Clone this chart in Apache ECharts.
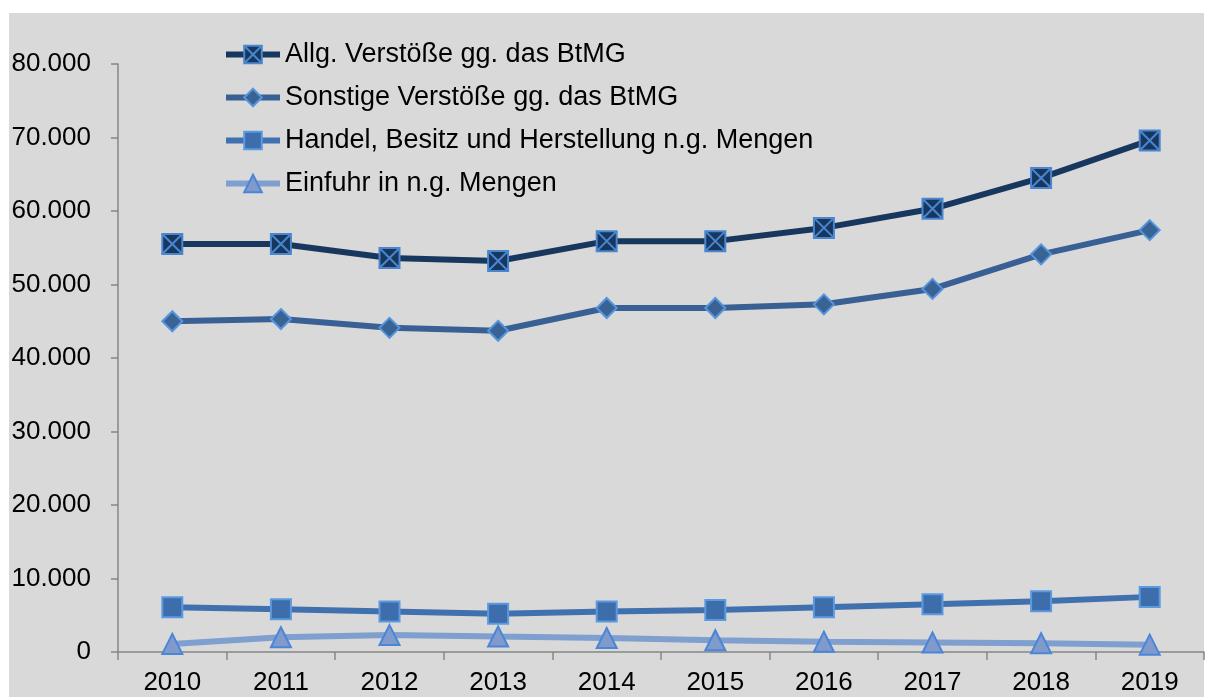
<!DOCTYPE html>
<html>
<head>
    <meta charset="UTF-8">
    <title>BtMG Verstöße</title>
    <script src="https://cdn.jsdelivr.net/npm/echarts@6/dist/echarts.min.js"></script>
</head>
<body style="margin:0;background:#fff">
<div id="chart" style="width: 1205px; height: 697px"></div>
<script>
    var years = ['2010', '2011', '2012', '2013', '2014', '2015', '2016', '2017', '2018', '2019'];
    var names = ['Allg. Verstöße gg. das BtMG', 'Sonstige Verstöße gg. das BtMG',
        'Handel, Besitz und Herstellung n.g. Mengen', 'Einfuhr in n.g. Mengen'];
    var allg = [55500, 55500, 53600, 53200, 55900, 55900, 57700, 60300, 64500, 69600];
    var sonstige = [45000, 45300, 44100, 43700, 46800, 46800, 47300, 49400, 54100, 57400];
    var handel = [6100, 5800, 5500, 5200, 5500, 5700, 6100, 6500, 6900, 7500];
    var einfuhr = [1100, 2000, 2300, 2100, 1900, 1600, 1400, 1300, 1200, 1000];

    var font = 'Liberation Sans, Arial, sans-serif';
    // Quadrat mit Kreuz
    var crossBox = 'path://M0,0 L10,0 L10,10 L0,10 Z M0,0 L10,10 M10,0 L0,10';

    function fmt(v) {
        // deutsches Tausendertrennzeichen
        return String(v).replace(/\B(?=(\d{3})+(?!\d))/g, '.');
    }

    function line(name, data, color, symbol, fill, border, width) {
        return {
            name: name,
            type: 'line',
            data: data,
            symbol: symbol,
            symbolSize: 20,
            lineStyle: {color: color, width: width},
            itemStyle: {color: fill, borderColor: border, borderWidth: 2},
            emphasis: {disabled: true},
            z: 2
        };
    }

    var myChart = echarts.init(document.getElementById('chart'));
    myChart.setOption({
        animation: false,
        backgroundColor: '#fff',
        graphic: [{
            type: 'rect', z: -10,
            shape: {x: 9, y: 13, width: 1195, height: 684},
            style: {fill: '#d9d9d9'}
        }],
        grid: {left: 118, right: 1, top: 64, bottom: 45},
        legend: {
            orient: 'vertical',
            left: 218, top: 36,
            itemWidth: 54, itemHeight: 22, itemGap: 16,
            lineStyle: {width: 6},
            textStyle: {fontFamily: font, fontSize: 27, color: '#000'},
            data: names
        },
        xAxis: {
            type: 'category',
            data: years,
            boundaryGap: true,
            axisLine: {lineStyle: {color: '#868686', width: 1.5}},
            axisTick: {show: true, length: 8, lineStyle: {color: '#868686', width: 1.5}},
            axisLabel: {fontFamily: font, fontSize: 26, color: '#000', margin: 18}
        },
        yAxis: {
            type: 'value',
            min: 0, max: 80000, interval: 10000,
            splitLine: {show: false},
            axisLine: {show: true, lineStyle: {color: '#868686', width: 1.5}},
            axisTick: {show: true, length: 7, lineStyle: {color: '#868686', width: 1.5}},
            axisLabel: {fontFamily: font, fontSize: 26, color: '#000', margin: 27, formatter: fmt}
        },
        series: [
            line(names[0], allg, '#17375e', crossBox, '#17375e', '#4a86d0', 6),
            line(names[1], sonstige, '#386094', 'diamond', '#3a6395', '#5595dd', 6),
            line(names[2], handel, '#4070ae', 'rect', '#3d6dab', '#5b9ae0', 6),
            line(names[3], einfuhr, '#7f9fcf', 'triangle', '#7f9acb', '#4a86d8', 6)
        ]
    });
</script>
</body>
</html>
